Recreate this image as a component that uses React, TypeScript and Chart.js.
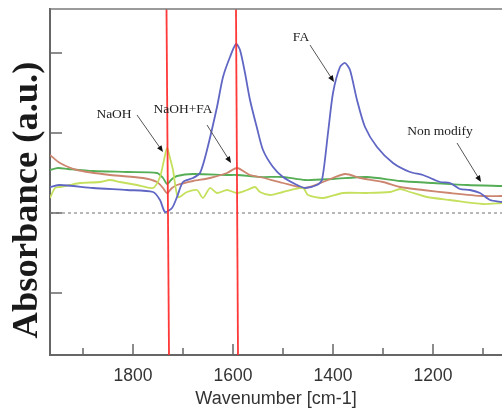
import React, { useEffect, useRef } from "react";
import { Chart, registerables } from "chart.js";

Chart.register(...registerables);

// Axis ranges and ticks (wavenumber in cm-1, absorbance in arbitrary units)
const X_MIN = 1062;
const X_MAX = 1966;
const Y_MIN = -1.775;
const Y_MAX = 2.55;
const X_TICKS = [1900, 1800, 1700, 1600, 1500, 1400, 1300, 1200, 1100];
const X_LABELED = [1800, 1600, 1400, 1200];
const Y_TICKS = [-1, 0, 1, 2];

// FA (blue)
const FA_WN = [1966, 1946, 1880, 1812, 1760, 1746, 1736, 1722, 1712, 1700, 1680, 1666, 1652, 1632, 1620, 1606, 1594, 1586, 1576, 1566, 1552, 1540, 1520, 1500, 1472, 1456, 1432, 1422, 1410, 1400, 1386, 1376, 1366, 1352, 1336, 1312, 1280, 1246, 1220, 1186, 1166, 1146, 1126, 1106, 1086, 1062];
const FA_ABS = [0.325, 0.35, 0.3125, 0.2875, 0.2625, 0.1625, 0.0125, 0.0625, 0.2, 0.3875, 0.4375, 0.5, 0.7875, 1.325, 1.7, 1.95, 2.1125, 2.0375, 1.75, 1.4125, 1.0625, 0.7875, 0.575, 0.45, 0.35, 0.3125, 0.35, 0.4125, 1.0, 1.5, 1.825, 1.875, 1.7875, 1.4125, 1.075, 0.825, 0.625, 0.5125, 0.475, 0.3875, 0.375, 0.3, 0.2875, 0.25, 0.1625, 0.1375];

// NaOH+FA (brown)
const NAOHFA_WN = [1966, 1946, 1912, 1846, 1780, 1752, 1740, 1732, 1722, 1712, 1680, 1646, 1612, 1592, 1566, 1546, 1500, 1456, 1420, 1376, 1346, 1300, 1266, 1220, 1166, 1100, 1062];
const NAOHFA_ABS = [0.725, 0.625, 0.5375, 0.475, 0.4375, 0.3875, 0.3125, 0.25, 0.3125, 0.35, 0.4, 0.4375, 0.5, 0.5625, 0.475, 0.45, 0.375, 0.3125, 0.3875, 0.4875, 0.4375, 0.3875, 0.325, 0.2875, 0.25, 0.2125, 0.2125];

// Non modify (green)
const NONMOD_WN = [1966, 1950, 1930, 1880, 1812, 1752, 1740, 1732, 1722, 1712, 1680, 1612, 1592, 1546, 1500, 1456, 1400, 1332, 1266, 1200, 1132, 1062];
const NONMOD_ABS = [0.5375, 0.5625, 0.55, 0.525, 0.5125, 0.5, 0.4375, 0.3625, 0.425, 0.4625, 0.4875, 0.475, 0.475, 0.45, 0.45, 0.4125, 0.425, 0.45, 0.4, 0.375, 0.35, 0.3375];

// NaOH (yellow-green)
const NAOH_WN = [1966, 1956, 1946, 1926, 1906, 1866, 1846, 1826, 1792, 1760, 1746, 1738, 1732, 1726, 1720, 1710, 1692, 1672, 1660, 1646, 1632, 1612, 1592, 1572, 1556, 1546, 1526, 1500, 1460, 1450, 1420, 1380, 1332, 1286, 1266, 1246, 1212, 1166, 1100, 1062];
const NAOH_ABS = [0.1875, 0.3125, 0.325, 0.35, 0.375, 0.3875, 0.4125, 0.3875, 0.35, 0.3125, 0.45, 0.6625, 0.8125, 0.6875, 0.5375, 0.2, 0.2625, 0.2875, 0.1875, 0.3125, 0.25, 0.2875, 0.25, 0.2875, 0.325, 0.2625, 0.225, 0.2625, 0.3125, 0.225, 0.1875, 0.25, 0.25, 0.2625, 0.3, 0.2625, 0.2, 0.1625, 0.1125, 0.125];

// Red marker lines (top wavenumber, bottom wavenumber)
const MARK_1_WN = [1733, 1728];
const MARK_2_WN = [1594, 1590];

// Annotation labels with arrows (data coordinates)
const ANN_LABELS = ["NaOH", "NaOH+FA", "FA", "Non modify"];
const ANN_TEXT_WN = [1838, 1700, 1464, 1186];
const ANN_TEXT_ABS = [1.2375, 1.3, 2.2, 1.025];
const ANN_FROM_WN = [1792, 1652, 1446, 1152];
const ANN_FROM_ABS = [1.225, 1.1, 2.1, 0.875];
const ANN_TO_WN = [1740, 1604, 1398, 1104];
const ANN_TO_ABS = [0.7625, 0.625, 1.6375, 0.3875];

const Y_TITLE = "Absorbance (a.u.)";
const X_TITLE = "Wavenumber [cm-1]";

const toPts = (xs: number[], ys: number[]) => xs.map((x, i) => ({ x, y: ys[i] }));

const decorPlugin = {
  id: "decor",
  afterDatasetsDraw(chart: any) {
    const { ctx, chartArea } = chart;
    const xs = chart.scales.x;
    const ys = chart.scales.y;
    ctx.save();
    // top frame line
    ctx.strokeStyle = "#7a7a7a";
    ctx.lineWidth = 1.5;
    ctx.beginPath();
    ctx.moveTo(chartArea.left, chartArea.top);
    ctx.lineTo(chartArea.right, chartArea.top);
    ctx.stroke();
    // inward ticks
    ctx.strokeStyle = "#666";
    ctx.lineWidth = 1.5;
    X_TICKS.forEach((v) => {
      const px = xs.getPixelForValue(v);
      const len = X_LABELED.includes(v) ? 11 : 7;
      ctx.beginPath();
      ctx.moveTo(px, chartArea.bottom);
      ctx.lineTo(px, chartArea.bottom - len);
      ctx.stroke();
    });
    Y_TICKS.forEach((v) => {
      const py = ys.getPixelForValue(v);
      ctx.beginPath();
      ctx.moveTo(chartArea.left, py);
      ctx.lineTo(chartArea.left + 12, py);
      ctx.stroke();
    });
    // annotations
    ctx.font = '13.5px "Liberation Serif"';
    ctx.fillStyle = "#222";
    ctx.textAlign = "center";
    ctx.textBaseline = "middle";
    ANN_LABELS.forEach((label, i) => {
      const tx = xs.getPixelForValue(ANN_TEXT_WN[i]);
      const ty = ys.getPixelForValue(ANN_TEXT_ABS[i]);
      ctx.fillText(label, tx, ty);
      const x0 = xs.getPixelForValue(ANN_FROM_WN[i]);
      const y0 = ys.getPixelForValue(ANN_FROM_ABS[i]);
      const x1 = xs.getPixelForValue(ANN_TO_WN[i]);
      const y1 = ys.getPixelForValue(ANN_TO_ABS[i]);
      const ang = Math.atan2(y1 - y0, x1 - x0);
      const head = 7;
      ctx.strokeStyle = "#555";
      ctx.lineWidth = 1;
      ctx.beginPath();
      ctx.moveTo(x0, y0);
      ctx.lineTo(x1 - Math.cos(ang) * head * 0.8, y1 - Math.sin(ang) * head * 0.8);
      ctx.stroke();
      ctx.fillStyle = "#111";
      ctx.beginPath();
      ctx.moveTo(x1, y1);
      ctx.lineTo(x1 - head * Math.cos(ang - 0.4), y1 - head * Math.sin(ang - 0.4));
      ctx.lineTo(x1 - head * Math.cos(ang + 0.4), y1 - head * Math.sin(ang + 0.4));
      ctx.closePath();
      ctx.fill();
      ctx.fillStyle = "#222";
    });
    // y axis title
    ctx.save();
    ctx.translate(37, (chartArea.top + chartArea.bottom) / 2 + 18);
    ctx.rotate(-Math.PI / 2);
    ctx.font = 'bold 36.5px "Liberation Serif"';
    ctx.fillStyle = "#1a1a1a";
    ctx.textAlign = "center";
    ctx.textBaseline = "alphabetic";
    ctx.fillText(Y_TITLE, 0, 0);
    ctx.restore();
    ctx.restore();
  },
};

export default function App() {
  const ref = useRef<HTMLCanvasElement | null>(null);
  useEffect(() => {
    if (!ref.current) return;
    const lineDs = (label: string, xs: number[], ys: number[], color: string, order: number) => ({
      label,
      data: toPts(xs, ys),
      borderColor: color,
      backgroundColor: color,
      borderWidth: 1.8,
      pointRadius: 0,
      tension: 0.25,
      order,
    });
    const chart = new Chart(ref.current, {
      type: "line",
      data: {
        datasets: [
          {
            label: "marker1",
            data: [
              { x: MARK_1_WN[0], y: Y_MAX },
              { x: MARK_1_WN[1], y: Y_MIN },
            ],
            borderColor: "rgba(255,45,45,0.95)",
            borderWidth: 1.8,
            pointRadius: 0,
            order: 0,
          },
          {
            label: "marker2",
            data: [
              { x: MARK_2_WN[0], y: Y_MAX },
              { x: MARK_2_WN[1], y: Y_MIN },
            ],
            borderColor: "rgba(255,45,45,0.95)",
            borderWidth: 1.8,
            pointRadius: 0,
            order: 0,
          },
          lineDs("FA", FA_WN, FA_ABS, "#6066c4", 1),
          lineDs("NaOH", NAOH_WN, NAOH_ABS, "#c4e05c", 2),
          lineDs("NaOH+FA", NAOHFA_WN, NAOHFA_ABS, "#cc8670", 3),
          lineDs("Non modify", NONMOD_WN, NONMOD_ABS, "#55ad55", 4),
          {
            label: "baseline",
            data: [
              { x: X_MAX, y: 0 },
              { x: X_MIN, y: 0 },
            ],
            borderColor: "#a0a0a0",
            borderWidth: 1.5,
            borderDash: [3, 3],
            pointRadius: 0,
            order: 5,
          },
        ],
      },
      options: {
        animation: false,
        responsive: false,
        devicePixelRatio: 1,
        layout: { padding: { top: 9, left: 0, right: 0, bottom: 0 } },
        plugins: { legend: { display: false }, tooltip: { enabled: false } },
        scales: {
          x: {
            type: "linear",
            reverse: true,
            min: X_MIN,
            max: X_MAX,
            afterBuildTicks: (scale: any) => {
              scale.ticks = X_TICKS.map((v) => ({ value: v }));
            },
            afterFit: (scale: any) => {
              scale.height = 55;
            },
            grid: { display: false, drawTicks: false },
            border: { display: true, color: "#666", width: 2 },
            ticks: {
              autoSkip: false,
              maxRotation: 0,
              padding: 11,
              color: "#333",
              font: { family: '"Liberation Sans"', size: 17.5 },
              callback: (v: any) => (X_LABELED.includes(Number(v)) ? String(v) : ""),
            },
            title: {
              display: true,
              text: X_TITLE,
              color: "#333",
              font: { family: '"Liberation Sans"', size: 18 },
              padding: { top: 0, bottom: 0 },
            },
          },
          y: {
            type: "linear",
            min: Y_MIN,
            max: Y_MAX,
            afterBuildTicks: (scale: any) => {
              scale.ticks = Y_TICKS.map((v) => ({ value: v }));
            },
            afterFit: (scale: any) => {
              scale.width = 50;
            },
            grid: { display: false, drawTicks: false },
            border: { display: true, color: "#666", width: 2 },
            ticks: { display: false },
          },
        },
      },
      plugins: [decorPlugin],
    } as any);
    return () => chart.destroy();
  }, []);
  return (
    <div style={{ position: "absolute", left: 0, top: 0, width: 502, height: 410, background: "#fff" }}>
      <canvas ref={ref} width={502} height={410} style={{ display: "block" }} />
    </div>
  );
}
